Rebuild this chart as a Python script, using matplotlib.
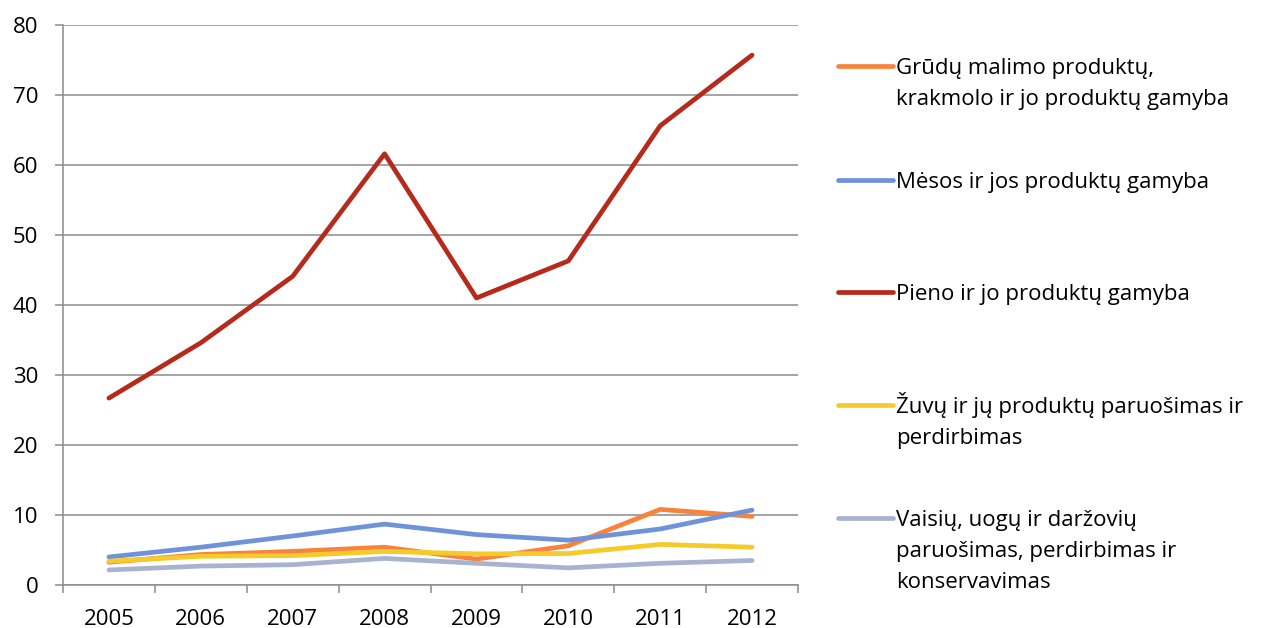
import matplotlib
matplotlib.use("Agg")
import matplotlib.pyplot as plt
from matplotlib.lines import Line2D
import numpy as np

years = ["2005", "2006", "2007", "2008", "2009", "2010", "2011", "2012"]
grudu = [3.25, 4.35, 4.8, 5.4, 3.7, 5.6, 10.8, 9.8]
mesos = [4.0, 5.4, 7.0, 8.7, 7.2, 6.4, 8.0, 10.7]
pieno = [26.7, 34.6, 44.1, 61.6, 41.0, 46.3, 65.6, 75.7]
zuvu = [3.4, 4.1, 4.2, 4.8, 4.45, 4.5, 5.8, 5.4]
vaisiu = [2.15, 2.7, 2.9, 3.8, 3.1, 2.45, 3.1, 3.5]

labels = [
    "Grūdų malimo produktų,\nkrakmolo ir jo produktų gamyba",
    "Mėsos ir jos produktų gamyba",
    "Pieno ir jo produktų gamyba",
    "Žuvų ir jų produktų paruošimas ir\nperdirbimas",
    "Vaisių, uogų ir daržovių\nparuošimas, perdirbimas ir\nkonservavimas",
]
colors = ["#F7843A", "#6F93D8", "#B52A1B", "#F4CB2B", "#A8B3D2"]
series = [grudu, mesos, pieno, zuvu, vaisiu]

plt.rcParams["font.family"] = ["Open Sans", "DejaVu Sans"]

W, H = 1261, 628
fig = plt.figure(figsize=(W / 100, H / 100), dpi=100)
ax = fig.add_axes([63 / W, 1 - 585 / H, (798 - 63) / W, (585 - 25) / H])

x = np.arange(len(years))
for s, c in zip(series, colors):
    ax.plot(x, s, color=c, lw=3.4, solid_capstyle="round", solid_joinstyle="round", zorder=3)

grid_c = "#8c8c8c"
ax.set_xlim(-0.5, len(years) - 0.5)
ax.set_ylim(0, 80)
ax.set_yticks(np.arange(0, 81, 10))
ax.yaxis.grid(True, color=grid_c, lw=1.1)
ax.set_axisbelow(True)
ax.set_xticks(x)
ax.set_xticklabels(years)
ax.set_xticks(np.arange(-0.5, len(years), 1.0), minor=True)
ax.tick_params(axis="x", which="major", length=0, pad=17, labelsize=16)
ax.tick_params(axis="x", which="minor", length=5.8, color=grid_c, width=1.1)
ax.tick_params(axis="y", length=5.8, color=grid_c, width=1.1, pad=12, labelsize=16)
for sp in ["top", "right"]:
    ax.spines[sp].set_visible(False)
for sp in ["left", "bottom"]:
    ax.spines[sp].set_color(grid_c)
    ax.spines[sp].set_linewidth(1.1)

# legend (manual)
entry_y = [66, 180, 292, 405, 518]
line_step = 31
for lab, c, yy in zip(labels, colors, entry_y):
    fy = 1 - yy / H
    fig.add_artist(Line2D([838 / W, 893 / W], [fy, fy], color=c, lw=3.4,
                          solid_capstyle="round", transform=fig.transFigure))
    for i, part in enumerate(lab.split("\n")):
        fig.text(896 / W, 1 - (yy + 8 + i * line_step) / H, part, fontsize=16,
                 va="baseline", ha="left", color="#000000")

fig.savefig("out.png", dpi=100)
